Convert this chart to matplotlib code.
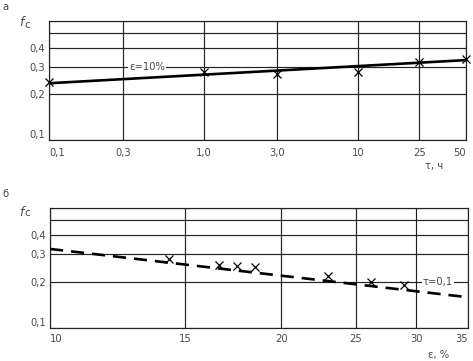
import matplotlib
matplotlib.use("Agg")
import matplotlib.pyplot as plt
from matplotlib.ticker import FixedLocator, NullLocator, NullFormatter

# ---- data: panel a (f_c vs tau, eps = 10%) ----
tau_pts = [0.1, 1.0, 3.0, 10, 25, 50]
fc_a_pts = [0.238, 0.28, 0.27, 0.28, 0.322, 0.337]
tau_fit = [0.1, 50]
fc_a_fit = [0.235, 0.333]
tau_ticks = [0.1, 0.3, 1.0, 3.0, 10, 25, 50]
tau_labels = ["0,1", "0,3", "1,0", "3,0", "10", "25", "50"]

# ---- data: panel b (f_c vs eps, tau = 0.1) ----
eps_pts = [14.3, 16.6, 17.5, 18.5, 23.0, 26.2, 28.9]
fc_b_pts = [0.281, 0.257, 0.251, 0.247, 0.216, 0.200, 0.190]
eps_fit = [10, 35]
fc_b_fit = [0.326, 0.158]
eps_ticks = [10, 15, 20, 25, 30, 35]
eps_labels = ["10", "15", "20", "25", "30", "35"]

fc_grid = [0.1, 0.2, 0.3, 0.4, 0.5, 0.6]
fc_ticks = [0.1, 0.2, 0.3, 0.4]
fc_labels = ["0,1", "0,2", "0,3", "0,4"]

TXT = "#4a4a4a"
GRID = "#222222"
FS = 7.2

fig = plt.figure(figsize=(4.73, 3.61), dpi=100)
ax1 = fig.add_axes([49/473, 1-140/361, 417/473, 119/361])
ax2 = fig.add_axes([50/473, 1-327.7/361, 417.7/473, 119.4/361])


def style(ax, xticks, xlabels, xlim, xpad):
    ax.set_xscale("log")
    ax.set_yscale("log")
    ax.set_xlim(*xlim)
    ax.set_ylim(0.1, 0.6)
    ax.xaxis.set_major_locator(FixedLocator(xticks))
    ax.xaxis.set_minor_locator(NullLocator())
    ax.xaxis.set_minor_formatter(NullFormatter())
    ax.set_xticklabels(xlabels)
    ax.yaxis.set_major_locator(FixedLocator(fc_ticks))
    ax.yaxis.set_minor_locator(NullLocator())
    ax.yaxis.set_minor_formatter(NullFormatter())
    ax.set_yticklabels(fc_labels)
    ax.tick_params(length=0, labelsize=FS, labelcolor=TXT)
    ax.tick_params(axis="x", pad=xpad)
    ax.tick_params(axis="y", pad=3)
    for t in xticks:
        ax.axvline(t, color=GRID, lw=0.85, zorder=1)
    for g in fc_grid:
        ax.axhline(g, color=GRID, lw=0.85, zorder=1)
    for s in ax.spines.values():
        s.set_color(GRID)
        s.set_linewidth(0.85)
    xl = ax.get_xticklabels()
    xl[0].set_ha("left")
    xl[-1].set_ha("right")
    yl = ax.get_yticklabels()
    yl[0].set_va("bottom")


style(ax1, tau_ticks, tau_labels, (0.1, 50), 6)
style(ax2, eps_ticks, eps_labels, (10, 35), 4.5)

ax1.plot(tau_fit, fc_a_fit, color="black", lw=1.9, zorder=3, solid_capstyle="butt")
ax1.plot(tau_pts, fc_a_pts, linestyle="none", marker="x", ms=5.5, mew=0.9,
         color="black", zorder=4, clip_on=False)
ax1.text(0.43, 0.3, "ε=10%", fontsize=FS, color=TXT, ha="center", va="center",
         bbox=dict(facecolor="white", edgecolor="none", pad=0.5), zorder=5)

ax2.plot(eps_fit, fc_b_fit, color="black", lw=1.9, dashes=(5, 3), zorder=3)
ax2.plot(eps_pts, fc_b_pts, linestyle="none", marker="x", ms=5.5, mew=0.9,
         color="black", zorder=4)
ax2.text(32.0, 0.2, "τ=0,1", fontsize=FS, color=TXT, ha="center", va="center",
         bbox=dict(facecolor="white", edgecolor="none", pad=0.5), zorder=5)

# labels
fig.text(2/473, 1-7/361, "а", fontsize=FS, color=TXT, ha="left", va="center")
fig.text(2/473, 1-194/361, "б", fontsize=FS, color=TXT, ha="left", va="center")
for yy in (23, 212):
    fig.text(19/473, 1-yy/361, "f", fontsize=9, style="italic", color=TXT,
             ha="left", va="center")
    fig.text(24.5/473, 1-(yy+1.5)/361, "c", fontsize=7.5, color=TXT,
             ha="left", va="center")
fig.text(434/473, 1-166/361, "τ, ч", fontsize=FS, color=TXT, ha="center", va="center")
fig.text(439/473, 1-355/361, "ε, %", fontsize=FS, color=TXT, ha="center", va="center")

fig.savefig("out.png", dpi=100)
